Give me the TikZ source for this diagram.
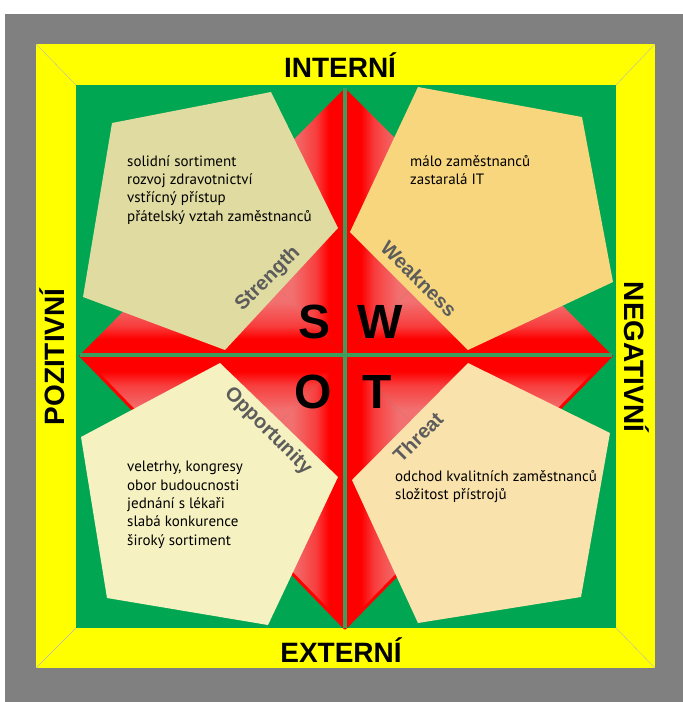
\documentclass[tikz,border=0pt]{standalone}
\usepackage{fontspec}
\setmainfont{PT Sans}
\newfontfamily\headfont{Liberation Sans}

\definecolor{bggray}{RGB}{128,128,128}
\definecolor{frameyellow}{RGB}{255,255,0}
\definecolor{fieldgreen}{RGB}{0,166,81}
\definecolor{axisgreen}{RGB}{60,158,90}
\definecolor{starred}{RGB}{255,0,0}
\definecolor{starpink}{RGB}{242,112,112}
\definecolor{strcol}{RGB}{224,219,160}
\definecolor{weakcol}{RGB}{248,214,126}
\definecolor{oppcol}{RGB}{245,241,192}
\definecolor{thrcol}{RGB}{250,226,172}
\definecolor{labelgray}{RGB}{92,92,92}

% star shadings: red along the axis, pink towards the outer edge
\pgfdeclarehorizontalshading{starL}{100bp}{color(0bp)=(starpink); color(55bp)=(starpink); color(64bp)=(starpink!55!starred); color(69bp)=(starred); color(100bp)=(starred)}
\pgfdeclarehorizontalshading{starR}{100bp}{color(0bp)=(starred); color(31bp)=(starred); color(36bp)=(starpink!55!starred); color(45bp)=(starpink); color(100bp)=(starpink)}
\pgfdeclareverticalshading{starD}{100bp}{color(0bp)=(starred); color(31bp)=(starred); color(36bp)=(starpink!55!starred); color(45bp)=(starpink); color(100bp)=(starpink)}
\pgfdeclareverticalshading{starU}{100bp}{color(0bp)=(starpink); color(55bp)=(starpink); color(64bp)=(starpink!55!starred); color(69bp)=(starred); color(100bp)=(starred)}

\begin{document}
\begin{tikzpicture}[x=1pt,y=-1pt]

\tikzset{head/.style = {font=\headfont\bfseries\fontsize{28}{28}\selectfont, inner sep=0pt, anchor=base}}
\tikzset{letter/.style = {font=\headfont\bfseries\fontsize{48}{48}\selectfont, inner sep=0pt}}
\tikzset{tag/.style = {font=\headfont\bfseries\fontsize{20}{20}\selectfont, text=labelgray, inner sep=0pt}}
\tikzset{items/.style = {font=\fontsize{15}{18.4}\selectfont, align=left, inner sep=0pt, anchor=north west}}
\tikzset{bevel/.style = {draw=gray!55, line width=0.4pt}}

\useasboundingbox (0,0) rectangle (683,702);
\fill[white] (0,0) rectangle (683,702);
\fill[bggray] (5,14) rectangle (683,702);
\fill[frameyellow] (36,44) rectangle (655,668);
\fill[fieldgreen] (76,85) rectangle (616,628);
\draw[bevel] (36,44) -- (76,85);
\draw[bevel] (655,44) -- (616,85);
\draw[bevel] (36,668) -- (76,628);
\draw[bevel] (655,668) -- (616,628);

% star
\coordinate (c) at (345,355);
\coordinate (t) at (345,88);
\coordinate (l) at (80,355);
\coordinate (b) at (345,628);
\coordinate (r) at (612,355);
\coordinate (mtl) at (212.5,221.5);
\coordinate (mtr) at (478.5,221.5);
\coordinate (mbl) at (212.5,491.5);
\coordinate (mbr) at (478.5,491.5);

\shade[shading=starL] (c) -- (t) -- (mtl) -- cycle;
\shade[shading=starD] (c) -- (l) -- (mtl) -- cycle;
\shade[shading=starR] (c) -- (t) -- (mtr) -- cycle;
\shade[shading=starD] (c) -- (r) -- (mtr) -- cycle;
\shade[shading=starL] (c) -- (b) -- (mbl) -- cycle;
\shade[shading=starU] (c) -- (l) -- (mbl) -- cycle;
\shade[shading=starR] (c) -- (b) -- (mbr) -- cycle;
\shade[shading=starU] (c) -- (r) -- (mbr) -- cycle;
\draw[starred, line width=3pt, line join=round] (l) -- (b) -- (r);

\draw[axisgreen, line width=3.5pt] (t) -- (b);
\draw[axisgreen, line width=3.5pt] (l) -- (r);

% quadrants
\fill[strcol] (271,92) -- (112,123) -- (83,297) -- (225,350) -- (338,228) -- cycle;
\fill[weakcol] (418,87) -- (582,117) -- (613,282) -- (468,350) -- (350,232) -- cycle;
\fill[oppcol] (220,363) -- (338,477) -- (268,625) -- (107,598) -- (81,437) -- cycle;
\fill[thrcol] (468,363) -- (610,433) -- (581,597) -- (418,623) -- (352,480) -- cycle;

\node[head] (intern) at (340,77) {INTERNÍ};
\node[head] (extern) at (341,662) {EXTERNÍ};
\node[head, rotate=90] (pozit) at (64,357) {POZITIVNÍ};
\node[head, rotate=-90] (negat) at (624,357) {NEGATIVNÍ};

\node[items] (strlist) at (127,155) {solidní sortiment\\rozvoj zdravotnictví\\vstřícný přístup\\přátelský vztah zaměstnanců};
\node[items] (weaklist) at (410,155) {málo zaměstnanců\\zastaralá IT};
\node[items] (opplist) at (127,461) {veletrhy, kongresy\\obor budoucnosti\\jednání s lékaři\\slabá konkurence\\široký sortiment};
\node[items] (thrlist) at (395,470) {odchod kvalitních zaměstnanců\\složitost přístrojů};

\node[tag, rotate=45] (strength) at (268,279) {Strength};
\node[tag, rotate=-45] (weakness) at (419,279) {Weakness};
\node[tag, rotate=-45] (opportunity) at (268,431) {Opportunity};
\node[tag, rotate=45] (threat) at (418,437) {Threat};

\node[letter] (s) at (315,322) {S};
\node[letter] (w) at (380,322) {W};
\node[letter] (o) at (313,392) {O};
\node[letter] (tt) at (377,392) {T};

\end{tikzpicture}
\end{document}
